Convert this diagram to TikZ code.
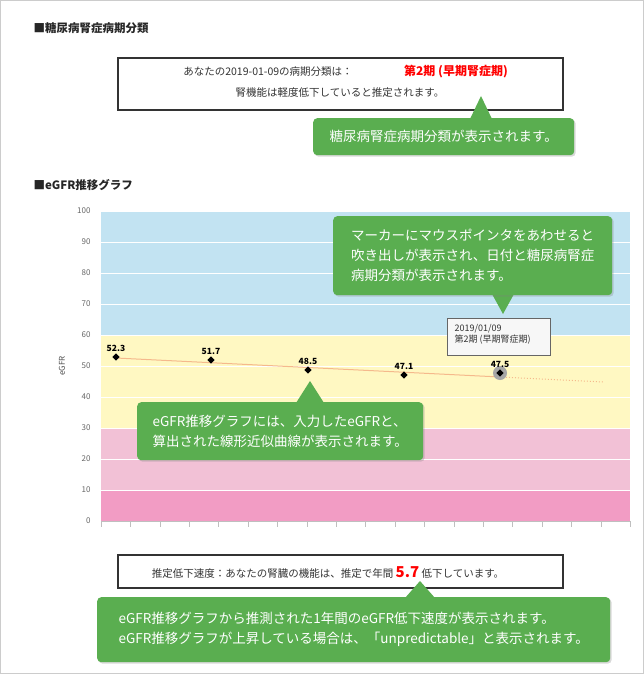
\documentclass[tikz,border=0pt]{standalone}
\usepackage{fontspec}
\setmainfont{Noto Sans CJK JP}
\usetikzlibrary{shadows}
\definecolor{callgreen}{HTML}{5AAE50}
\definecolor{bandblue}{HTML}{C2E3F2}
\definecolor{bandyellow}{HTML}{FFF8C2}
\definecolor{bandpink}{HTML}{F2C1D6}
\definecolor{banddeep}{HTML}{F29CC4}
\definecolor{trend}{HTML}{F5B98C}
\tikzset{
  callout/.style={fill=callgreen, rounded corners=4pt, text=white, font=\fontsize{13.5}{20}\selectfont, inner xsep=14pt, inner ysep=6pt, drop shadow={opacity=0.3, shadow xshift=1.5pt, shadow yshift=-1.5pt}},
  infobox/.style={draw=black!80, line width=1.2pt, fill=white},
  heading/.style={anchor=west, font=\fontsize{11.5}{14}\selectfont\bfseries, text=black!85},
  ylab/.style={anchor=east, font=\fontsize{8}{10}\selectfont, text=black!60},
  vallab/.style={above, font=\fontsize{8.5}{10}\selectfont\bfseries, inner sep=2pt},
  datapt/.style={fill=black, inner sep=0pt, minimum size=5pt, rotate=45}
}
\begin{document}
\begin{tikzpicture}[x=1pt, y=-1pt]
\useasboundingbox (0,0) rectangle (644,674);
\draw[black!20] (0.5,0.5) rectangle (643.5,673.5);

% headings
\node[heading] (h1) at (30,28) {■糖尿病腎症病期分類};
\node[heading] (h2) at (30,185) {■eGFR推移グラフ};

% stage box
\draw[infobox] (118,58) rectangle (563,110);
\node[font=\fontsize{10.5}{12}\selectfont, text=black!80] (s1) at (268,72) {あなたの2019-01-09の病期分類は：};
\node[font=\fontsize{12}{13}\selectfont\bfseries, text=red] (s2) at (456,72) {第2期 (早期腎症期)};
\node[font=\fontsize{10.5}{12}\selectfont, text=black!80] (s3) at (340,93) {腎機能は軽度低下していると推定されます。};

% bands
\fill[bandblue] (101,211) rectangle (630,335);
\fill[bandyellow] (101,335) rectangle (630,428);
\fill[bandpink] (101,428) rectangle (630,490);
\fill[banddeep] (101,490) rectangle (630,521);
\foreach \v in {0,10,...,100}{
  \pgfmathsetmacro{\yy}{521-3.1*\v}
  \draw[white, line width=0.8pt] (101,\yy) -- (630,\yy);
  \node[ylab] at (94,\yy) {\v};
}
\draw[black!25] (101,521) -- (630,521);
\foreach \i in {0,...,18}{
  \pgfmathsetmacro{\xx}{101+29.4*\i}
  \draw[black!25] (\xx,521) -- (\xx,527);
}
\node[rotate=90, font=\fontsize{8}{10}\selectfont, text=black!70] (yaxis) at (62,366) {eGFR};

% trend line
\draw[trend, line width=1pt] (116,358) -- (500,377);
\draw[trend, dotted, line width=1pt] (500,377) -- (604,382);

% points
\fill[black!35] (500,373) circle (7);
\foreach \px/\py/\val/\nm in {116/357/52.3/p1, 211/360/51.7/p2, 308/370/48.5/p3, 404/375/47.1/p4, 500/373/47.5/p5}{
  \node[datapt] (\nm) at (\px,\py) {};
  \node[vallab] at (\px,{\py-3}) {\val};
}

% tooltip
\draw[black!60, fill=black!3] (447,318) rectangle (550,355);
\node[anchor=north west, align=left, font=\fontsize{9}{11}\selectfont, text=black!80] (tip) at (451,321) {2019/01/09\\第2期 (早期腎症期)};

% callouts
\coordinate (t1) at (481,96);
\fill[callgreen] (470,119) -- (t1) -- (492,119) -- cycle;
\node[callout, anchor=north west, minimum width=261pt, minimum height=37pt] (c1) at (313,118) {糖尿病腎症病期分類が表示されます。};

\coordinate (t2) at (503,314);
\fill[callgreen] (492,294) -- (t2) -- (514,294) -- cycle;
\node[callout, anchor=north west, align=left, minimum width=279pt, minimum height=79pt] (c2) at (333,216) {マーカーにマウスポインタをあわせると\\吹き出しが表示され、日付と糖尿病腎症\\病期分類が表示されます。};

\coordinate (t3) at (310,381);
\fill[callgreen] (296,403) -- (t3) -- (324,403) -- cycle;
\node[callout, anchor=north west, align=left, minimum width=286pt, minimum height=58pt] (c3) at (137,402) {eGFR推移グラフには、入力したeGFRと、\\算出された線形近似曲線が表示されます。};

% slope box
\draw[infobox] (118,555) rectangle (563,588);
\node[font=\fontsize{10.5}{12}\selectfont, text=black!80] (r1) at (328,572) {推定低下速度：あなたの腎臓の機能は、推定で年間 {\fontsize{15}{15}\selectfont\bfseries\color{red}5.7} 低下しています。};

\coordinate (t4) at (420,581);
\fill[callgreen] (405,598) -- (t4) -- (435,598) -- cycle;
\node[callout, anchor=north west, align=left, minimum width=513pt, minimum height=65pt] (c4) at (97,597) {eGFR推移グラフから推測された1年間のeGFR低下速度が表示されます。\\eGFR推移グラフが上昇している場合は、「unpredictable」と表示されます。};
\end{tikzpicture}
\end{document}
